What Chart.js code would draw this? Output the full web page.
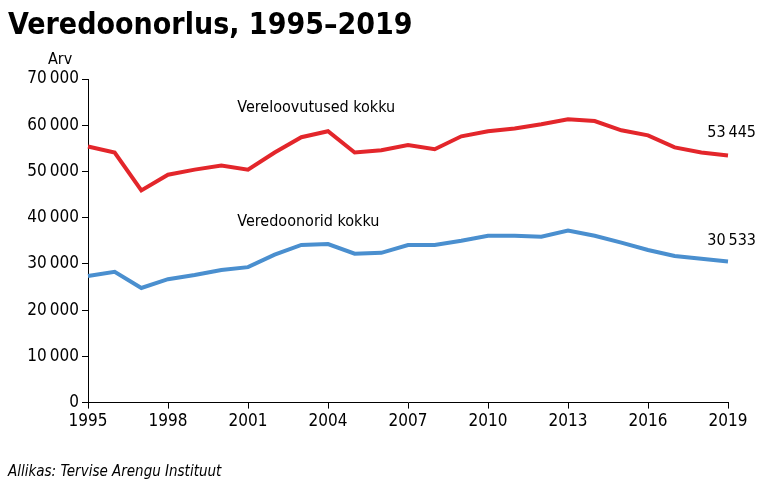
<!DOCTYPE html>
<html><head><meta charset="utf-8">
<script src="https://cdn.jsdelivr.net/npm/chart.js@4"></script>
<style>html,body{margin:0;background:#fff}#wrap{width:768px;height:489px}</style>
</head><body><div id="wrap"><canvas id="c"></canvas></div>
<script>
const years = [];
for (let y = 1995; y <= 2019; y++) years.push(String(y));
const donations = [55400,54100,45900,49300,50400,51300,50400,54100,57400,58700,54100,54600,55700,54800,57600,58700,59300,60200,61300,60900,58900,57800,55200,54100,53445];
const donors = [27400,28300,24800,26700,27600,28700,29300,32000,34100,34300,32200,32400,34100,34100,35000,36100,36100,35900,37200,36100,34600,33000,31700,31100,30533];
const shownYears = ['1995','1998','2001','2004','2007','2010','2013','2016','2019'];

const fmt = v => String(v).replace(/\B(?=(\d{3})+(?!\d))/g, '\u2009');
const FONT = '"Liberation Sans Narrow", "DejaVu Sans Condensed", Arial, sans-serif';

const textPlugin = {
    id: 'texts',
    afterDraw(chart) {
        const ctx = chart.ctx, x = chart.scales.x, y = chart.scales.y;
        ctx.save();
        ctx.fillStyle = '#000';
        ctx.font = 'bold 30px ' + FONT;
        ctx.textBaseline = 'alphabetic';
        ctx.fillText('Veredoonorlus, 1995–2019', 8, 34);
        ctx.font = '16px ' + FONT;
        ctx.fillText('Arv', 48, 64);
        ctx.fillText('Vereloovutused kokku', x.getPixelForValue(5.6), y.getPixelForValue(62800));
        ctx.fillText('Veredoonorid kokku', x.getPixelForValue(5.6), y.getPixelForValue(38300));
        ctx.textAlign = 'right';
        ctx.fillText(fmt(53445), x.getPixelForValue(24) + 28, y.getPixelForValue(57400));
        ctx.fillText(fmt(30533), x.getPixelForValue(24) + 28, y.getPixelForValue(34100));
        ctx.textAlign = 'left';
        ctx.font = 'italic 15px ' + FONT;
        ctx.fillText('Allikas: Tervise Arengu Instituut', 8, 476);
        ctx.restore();
    }
};

new Chart(document.getElementById('c').getContext('2d'), {
    type: 'line',
    data: {
        labels: years,
        datasets: [
            { data: donations, borderColor: '#e3262b', borderWidth: 4, pointRadius: 0, tension: 0 },
            { data: donors, borderColor: '#4a8fcf', borderWidth: 4, pointRadius: 0, tension: 0 }
        ]
    },
    options: {
        responsive: true,
        maintainAspectRatio: false,
        animation: false,
        layout: { padding: { top: 79, left: 10, right: 40, bottom: 54 } },
        plugins: { legend: { display: false }, tooltip: { enabled: false } },
        scales: {
            x: {
                offset: false,
                grid: { display: true, drawOnChartArea: false, color: '#000', tickLength: 6,
                        tickColor: ctx => shownYears.includes(years[ctx.index]) ? '#000' : 'rgba(0,0,0,0)' },
                border: { color: '#000', width: 1 },
                ticks: { autoSkip: false, maxRotation: 0, color: '#000', font: { family: FONT, size: 17 },
                         callback: (v, i) => shownYears.includes(years[i]) ? years[i] : '' }
            },
            y: {
                min: 0, max: 70000,
                afterFit: s => { s.width = 78; },
                grid: { display: true, drawOnChartArea: false, color: '#000', tickLength: 6 },
                border: { color: '#000', width: 1 },
                ticks: { stepSize: 10000, color: '#000', font: { family: FONT, size: 17 }, callback: v => fmt(v) }
            }
        }
    },
    plugins: [textPlugin]
});
</script></body></html>
